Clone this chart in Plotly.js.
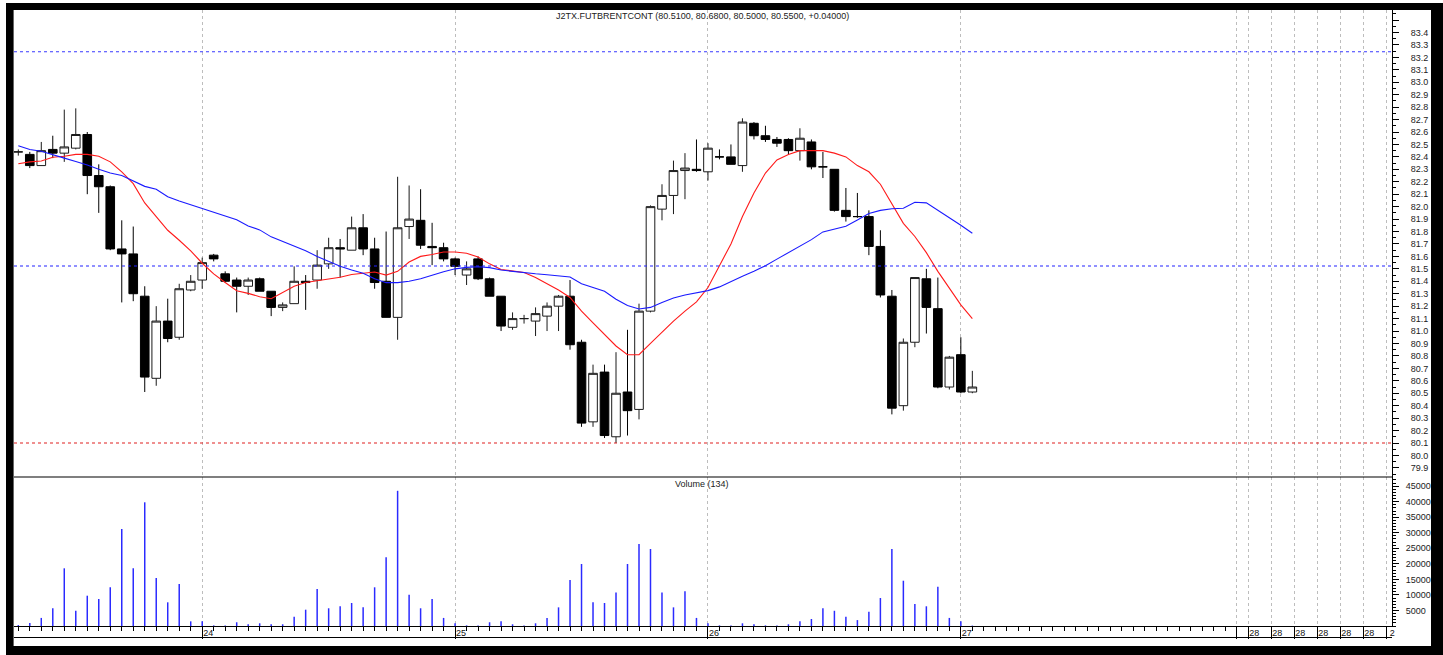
<!DOCTYPE html>
<html>
<head>
<meta charset="utf-8">
<script src="https://cdn.plot.ly/plotly-3.0.1.min.js"></script>
<style>
  html, body { margin: 0; padding: 0; background: #ffffff; overflow: hidden; }
  #chart { width: 1443px; height: 655px; }
</style>
</head>
<body>
<div id="chart"></div>
<script>
// ---------- DATA ----------
const openP = [82.44,82.42,82.33,82.46,82.43,82.47,82.58,82.25,82.16,81.66,81.62,81.28,80.62,81.08,80.95,81.33,81.41,81.61,81.46,81.41,81.36,81.42,81.32,81.19,81.22,81.40,81.41,81.54,81.67,81.65,81.83,81.66,81.40,81.11,81.84,81.89,81.68,81.67,81.58,81.45,81.58,81.42,81.28,81.03,81.10,81.08,81.12,81.20,81.28,80.91,80.27,80.67,80.15,80.51,80.37,81.16,81.98,82.09,82.29,82.30,82.28,82.40,82.40,82.33,82.67,82.57,82.54,82.54,82.45,82.52,82.32,82.30,81.97,81.92,81.92,81.68,81.28,80.40,80.91,81.42,81.18,80.55,80.81,80.51];
const highP = [82.46,82.44,82.52,82.57,82.78,82.79,82.60,82.34,82.17,81.89,81.84,81.36,81.20,81.26,81.38,81.45,81.59,81.62,81.48,81.43,81.43,81.43,81.32,81.23,81.52,81.45,81.65,81.75,81.74,81.92,81.94,81.75,81.80,82.24,82.17,82.14,81.87,81.71,81.59,81.56,81.60,81.43,81.28,81.15,81.13,81.19,81.23,81.29,81.41,80.93,80.73,80.73,80.83,81.01,81.22,82.01,82.18,82.37,82.43,82.54,82.51,82.46,82.50,82.71,82.68,82.65,82.56,82.55,82.63,82.54,82.44,82.30,82.15,82.11,81.97,81.81,81.33,80.94,81.43,81.50,81.43,80.80,80.95,80.68];
const lowP  = [82.41,82.31,82.33,82.39,82.36,82.46,82.10,81.95,81.65,81.23,81.24,80.51,80.56,80.91,80.93,81.32,81.34,81.56,81.39,81.15,81.29,81.32,81.12,81.16,81.22,81.17,81.34,81.50,81.43,81.65,81.61,81.34,81.11,80.93,81.74,81.66,81.53,81.56,81.45,81.37,81.41,81.28,81.00,81.01,81.06,80.96,81.00,81.00,80.85,80.23,80.23,80.14,80.10,80.16,80.29,81.15,81.89,81.94,82.06,82.28,82.21,82.38,82.34,82.28,82.54,82.52,82.48,82.42,82.37,82.30,82.23,81.96,81.88,81.91,81.61,81.27,80.33,80.36,80.87,80.98,80.54,80.53,80.50,80.50];
const closeP = [82.44,82.33,82.45,82.43,82.48,82.58,82.25,82.16,81.66,81.62,81.30,80.63,81.08,80.94,81.34,81.40,81.55,81.58,81.40,81.36,81.41,81.32,81.19,81.21,81.40,81.39,81.53,81.67,81.66,81.83,81.66,81.39,81.11,81.83,81.90,81.69,81.67,81.58,81.52,81.50,81.42,81.28,81.04,81.10,81.10,81.14,81.20,81.28,80.89,80.26,80.66,80.16,80.50,80.36,81.16,82.00,82.09,82.29,82.31,82.29,82.47,82.40,82.34,82.68,82.57,82.54,82.51,82.45,82.55,82.32,82.32,81.97,81.92,81.92,81.68,81.29,80.38,80.91,81.43,81.19,80.55,80.79,80.51,80.55];
const volume = [300,1000,2600,5700,18560,4900,9750,8700,12450,31200,18560,39800,15440,7620,13510,1500,1500,200,200,1200,550,870,550,550,3000,5250,11900,5700,6340,7400,6000,12450,22100,43500,10070,5700,8700,2600,870,200,200,1200,1500,550,200,870,2600,6000,14800,19950,7620,7400,10800,19950,26400,24770,10800,6000,11160,2600,870,200,200,870,550,200,200,550,1500,2250,5700,4900,3000,1900,4600,9000,24770,14570,7080,6340,12650,2600,1500,134];
const maFast = [82.345,82.36,82.367,82.397,82.405,82.42,82.42,82.405,82.36,82.28,82.185,82.03,81.92,81.81,81.73,81.645,81.545,81.46,81.39,81.324,81.303,81.276,81.26,81.31,81.36,81.39,81.405,81.42,81.432,81.455,81.466,81.475,81.45,81.48,81.555,81.60,81.615,81.635,81.635,81.625,81.595,81.54,81.495,81.48,81.47,81.43,81.38,81.33,81.27,81.16,81.065,80.975,80.88,80.81,80.81,80.90,80.99,81.08,81.16,81.235,81.35,81.53,81.70,81.92,82.11,82.27,82.375,82.42,82.45,82.45,82.45,82.43,82.40,82.33,82.28,82.18,82.02,81.866,81.76,81.63,81.48,81.34,81.21,81.10];
const maSlow = [82.49,82.46,82.445,82.42,82.39,82.363,82.335,82.30,82.27,82.25,82.205,82.163,82.14,82.08,82.045,82.015,81.985,81.958,81.93,81.895,81.845,81.813,81.757,81.72,81.683,81.645,81.60,81.56,81.52,81.49,81.465,81.42,81.389,81.389,81.40,81.42,81.45,81.477,81.50,81.512,81.517,81.51,81.49,81.48,81.464,81.46,81.452,81.445,81.435,81.38,81.35,81.32,81.255,81.205,81.177,81.19,81.23,81.265,81.29,81.305,81.325,81.355,81.40,81.44,81.48,81.525,81.578,81.63,81.68,81.735,81.797,81.82,81.843,81.893,81.945,81.97,81.983,81.987,82.035,82.03,81.97,81.915,81.85,81.786];
const levelValues = [83.245, 81.523, 80.10];
const dayTickIdx = [16, 38, 60, 82, 106, 107, 109, 111, 113, 115, 117, 119];
const dayTickText = ['24', '25', '26', '27', '', '28', '28', '28', '28', '28', '28', '2'];
const priceTickVals = [79.9,80.0,80.1,80.2,80.3,80.4,80.5,80.6,80.7,80.8,80.9,81.0,81.1,81.2,81.3,81.4,81.5,81.6,81.7,81.8,81.9,82.0,82.1,82.2,82.3,82.4,82.5,82.6,82.7,82.8,82.9,83.0,83.1,83.2,83.3,83.4,83.5];
const volTickVals = [5000,10000,15000,20000,25000,30000,35000,40000,45000];
const titleText = 'J2TX.FUTBRENTCONT (80.5100, 80.6800, 80.5000, 80.5500, +0.04000)';

// ---------- BUILD ----------
const idx = closeP.map((_, i) => i);
const candleTickIdx = [];
for (let i = 0; i <= 105; i++) candleTickIdx.push(i);
const priceTickText = priceTickVals.map(v => v >= 83.45 ? '' : v.toFixed(1));
const volTickText = volTickVals.map(v => String(v));

// pixel helpers for paper coordinates (plot area: x 14..1392, y 10..626)
const PL = 14, PW = 1378, PT = 10, PB = 626, PH = PB - PT;
const xp = px => (px - PL) / PW;
const yp = py => (PB - py) / PH;
const priceBottom = yp(477);

const FONT = 'Liberation Sans, Arial, sans-serif';

const traces = [
  {
    type: 'candlestick', x: idx, open: openP, high: highP, low: lowP, close: closeP,
    xaxis: 'x', yaxis: 'y', whiskerwidth: 0, hoverinfo: 'skip',
    increasing: { line: { color: '#1a1a1a', width: 1 }, fillcolor: '#ffffff' },
    decreasing: { line: { color: '#000000', width: 1 }, fillcolor: '#000000' },
    showlegend: false
  },
  {
    type: 'scatter', mode: 'lines', x: idx, y: maFast, xaxis: 'x', yaxis: 'y',
    line: { color: '#ff1a1a', width: 1.1 }, hoverinfo: 'skip', showlegend: false
  },
  {
    type: 'scatter', mode: 'lines', x: idx, y: maSlow, xaxis: 'x', yaxis: 'y',
    line: { color: '#1a1aff', width: 1.1 }, hoverinfo: 'skip', showlegend: false
  },
  {
    type: 'bar', x: idx, y: volume, xaxis: 'x2', yaxis: 'y2', width: 0.13,
    marker: { color: '#2a2aff', line: { width: 0 } }, hoverinfo: 'skip', showlegend: false
  }
];

const levelColors = ['#3a3aff', '#2323ff', '#e02020'];
const shapes = levelValues.map((v, k) => ({
  type: 'line', xref: 'paper', yref: 'y', x0: 0, x1: 1, y0: v, y1: v,
  line: { color: levelColors[k], width: 1.2, dash: '3px,3px' }, layer: 'above'
}));
// pane separator and bottom label row line
shapes.push({ type: 'line', xref: 'paper', yref: 'paper', x0: 0, x1: 1, y0: priceBottom, y1: priceBottom, line: { color: '#000', width: 1.2 } });
shapes.push({ type: 'line', xref: 'paper', yref: 'paper', x0: 0, x1: 1, y0: yp(637.5), y1: yp(637.5), line: { color: '#000', width: 1 } });
// window frame
const blk = { color: '#000', width: 0 };
shapes.push({ type: 'rect', xref: 'paper', yref: 'paper', x0: xp(6), x1: xp(13.6), y0: yp(655), y1: yp(3), fillcolor: '#000', line: blk });
shapes.push({ type: 'rect', xref: 'paper', yref: 'paper', x0: xp(6), x1: xp(1443), y0: yp(10), y1: yp(3), fillcolor: '#000', line: blk });
shapes.push({ type: 'rect', xref: 'paper', yref: 'paper', x0: xp(1431), x1: xp(1443), y0: yp(655), y1: yp(3), fillcolor: '#000', line: blk });
shapes.push({ type: 'rect', xref: 'paper', yref: 'paper', x0: xp(6), x1: xp(1443), y0: yp(655), y1: yp(646), fillcolor: '#000', line: blk });

const layout = {
  width: 1443, height: 655,
  margin: { l: PL, r: 1443 - 1392, t: PT, b: 655 - PB, pad: 0 },
  paper_bgcolor: '#ffffff', plot_bgcolor: '#ffffff',
  showlegend: false, dragmode: false, hovermode: false,
  boxgap: 0.25, boxgroupgap: 0,
  font: { family: FONT, size: 9, color: '#222' },
  xaxis: {
    domain: [0, 1], anchor: 'y', range: [-0.374, 119.51], type: 'linear',
    rangeslider: { visible: false },
    showticklabels: false, ticks: '', tickmode: 'array', tickvals: dayTickIdx,
    showgrid: true, gridcolor: '#bdbdbd', gridwidth: 1, griddash: '3px,3px',
    zeroline: false, showline: false, fixedrange: true
  },
  xaxis2: {
    domain: [0, 1], anchor: 'y2', matches: 'x', range: [-0.374, 119.51], type: 'linear',
    tickmode: 'array', tickvals: dayTickIdx, ticktext: dayTickText,
    ticks: 'outside', ticklen: 12, tickwidth: 1, tickcolor: '#000',
    ticklabelshift: 6, ticklabelstandoff: -14,
    tickfont: { family: FONT, size: 9, color: '#111' },
    minor: { tickmode: 'array', tickvals: candleTickIdx, ticks: 'outside', ticklen: 4, tickwidth: 1, tickcolor: '#000', showgrid: false },
    showgrid: true, gridcolor: '#bdbdbd', gridwidth: 1, griddash: '3px,3px',
    zeroline: false, showline: true, linecolor: '#000', linewidth: 1, fixedrange: true
  },
  yaxis: {
    domain: [priceBottom, 1], anchor: 'x', side: 'right', range: [79.8267, 83.5807],
    tickmode: 'array', tickvals: priceTickVals, ticktext: priceTickText,
    ticks: 'outside', ticklen: 6, tickwidth: 1, tickcolor: '#000', ticklabelstandoff: 10,
    minor: { dtick: 0.05, tick0: 79.9, ticks: 'outside', ticklen: 3, tickcolor: '#000', showgrid: false },
    tickfont: { family: FONT, size: 9, color: '#222' },
    showgrid: false, zeroline: false, showline: true, linecolor: '#000', linewidth: 1, fixedrange: true
  },
  yaxis2: {
    domain: [0, priceBottom], anchor: 'x2', side: 'right', range: [0, 47940],
    tickmode: 'array', tickvals: volTickVals, ticktext: volTickText,
    ticks: 'outside', ticklen: 6, tickwidth: 1, tickcolor: '#000', ticklabelstandoff: 5,
    minor: { dtick: 1000, tick0: 0, ticks: 'outside', ticklen: 3, tickcolor: '#000', showgrid: false },
    tickfont: { family: FONT, size: 9, color: '#222' },
    showgrid: false, zeroline: false, showline: true, linecolor: '#000', linewidth: 1, fixedrange: true
  },
  shapes: shapes,
  annotations: [
    { xref: 'paper', yref: 'paper', x: xp(702.5), y: yp(16.5), text: titleText, showarrow: false,
      xanchor: 'center', yanchor: 'middle', font: { family: FONT, size: 9, color: '#222' } },
    { xref: 'paper', yref: 'paper', x: xp(702), y: yp(484), text: 'Volume (' + volume[volume.length - 1] + ')', showarrow: false,
      xanchor: 'center', yanchor: 'middle', font: { family: FONT, size: 9, color: '#222' } }
  ]
};

Plotly.newPlot('chart', traces, layout, { displayModeBar: false, staticPlot: true });
</script>
</body>
</html>
